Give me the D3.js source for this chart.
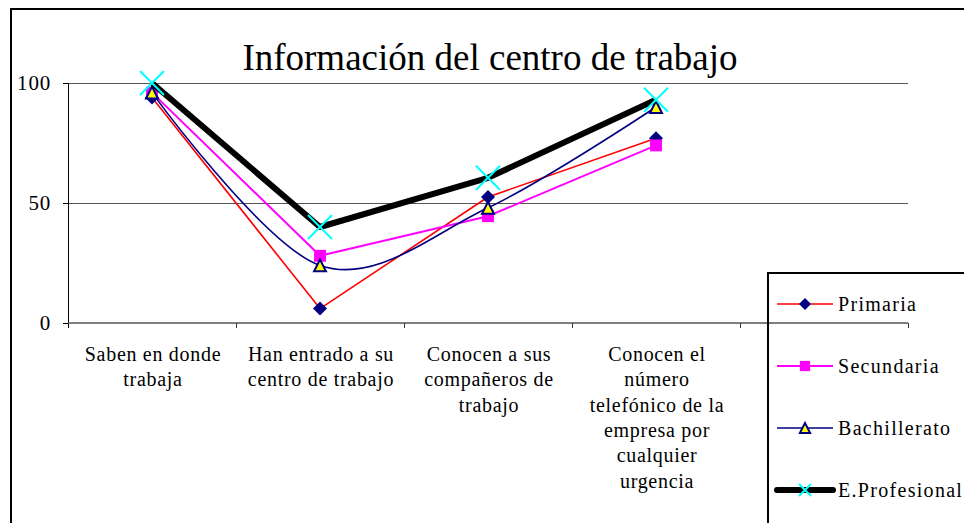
<!DOCTYPE html>
<html>
<head>
<meta charset="utf-8">
<script src="https://cdn.jsdelivr.net/npm/d3@7/dist/d3.min.js"></script>
<style>
  html, body { margin: 0; padding: 0; background: #fff; }
  svg { display: block; }
  svg text { font-family: "Times New Roman", "Liberation Serif", serif !important; fill: #000; }
</style>
</head>
<body>
<svg id="chart" width="964" height="523"></svg>
<script>
// ---- data ----
const title = "Información del centro de trabajo";
const categories = [
  "Saben en donde\ntrabaja",
  "Han entrado a su\ncentro de trabajo",
  "Conocen a sus\ncompañeros de\ntrabajo",
  "Conocen el\nnúmero\ntelefónico de la\nempresa por\ncualquier\nurgencia",
  ""
];
const seriesNames = ["Primaria", "Secundaria", "Bachillerato", "E.Profesional"];
const primaria     = [94, 6, 52.5, 77];
const secundaria   = [96, 28, 44.5, 74];
const bachillerato = [96, 24, 48, 90];
const profesional  = [100, 40, 60.5, 93];
const yTicks = [0, 50, 100];

// ---- layout ----
const FONT = '"Times New Roman", "Liberation Serif", serif';
const svg = d3.select("#chart");
const plot = { left: 68, right: 908, top: 83, bottom: 323 };

const x = d3.scaleBand().domain(categories).range([plot.left, plot.right]);
const y = d3.scaleLinear().domain([0, 100]).range([plot.bottom, plot.top]);

// outer frame
svg.append("path")
  .attr("d", `M11,530 L11,9 L970,9`)
  .attr("fill", "none").attr("stroke", "#000").attr("stroke-width", 2);

// title
svg.append("text")
  .attr("x", 490).attr("y", 70)
  .attr("text-anchor", "middle")
  .attr("font-family", FONT)
  .attr("font-size", 37)
  .text(title);

// gridlines
svg.append("g")
  .selectAll("line")
  .data(yTicks.filter(d => d > 0))
  .join("line")
  .attr("x1", plot.left).attr("x2", plot.right)
  .attr("y1", d => Math.round(y(d)) + 0.5).attr("y2", d => Math.round(y(d)) + 0.5)
  .attr("stroke", "#555").attr("stroke-width", 1);

// y axis
const yAxis = d3.axisLeft(y).tickValues(yTicks).tickSize(5).tickPadding(12).tickFormat(d3.format("d"));
const gy = svg.append("g").attr("transform", `translate(${plot.left},0)`).call(yAxis);
gy.attr("font-family", FONT);
gy.select(".domain").attr("stroke", "#000").attr("stroke-width", 1).attr("d", `M0.5,${plot.top}V${plot.bottom + 5}`);
gy.selectAll(".tick line").attr("stroke", "#000");
gy.selectAll(".tick text")
  .attr("font-family", FONT)
  .attr("font-size", 21).attr("letter-spacing", "0.8px")
  .attr("fill", "#000").attr("dy", "0.33em");

// x axis
const xAxis = d3.axisBottom(x).tickSize(0).tickFormat("");
const gx = svg.append("g").attr("transform", `translate(0,${plot.bottom})`).call(xAxis);
gx.select(".domain").attr("stroke", "#555").attr("stroke-width", 1.5).attr("d", `M${plot.left},0H${plot.right}`);
gx.selectAll(".tick").remove();
// band-boundary ticks
const bounds = categories.map(c => x(c)).concat([x(categories[categories.length - 1]) + x.bandwidth()]);
gx.selectAll("line.bt").data(bounds.slice(1)).join("line")
  .attr("class", "bt")
  .attr("x1", d => Math.round(d) + 0.5).attr("x2", d => Math.round(d) + 0.5)
  .attr("y1", 0).attr("y2", 5)
  .attr("stroke", "#333").attr("stroke-width", 1);

// x labels
const lblG = svg.append("g").attr("font-family", FONT);
categories.forEach(c => {
  const lines = c.split("\n");
  const t = lblG.append("text")
    .attr("text-anchor", "middle")
    .attr("font-family", FONT)
    .attr("font-size", 20)
    .attr("letter-spacing", "0.7px");
  lines.forEach((ln, i) => {
    t.append("tspan")
      .attr("x", x(c) + x.bandwidth() / 2 + 1)
      .attr("y", 361 + i * 25.3)
      .text(ln);
  });
});

// series
const series = [
  { name: seriesNames[0], values: primaria, color: "#FF0000", width: 1.6, marker: "diamond", curve: d3.curveLinear },
  { name: seriesNames[1], values: secundaria, color: "#FF00FF", width: 2, marker: "square", curve: d3.curveLinear },
  { name: seriesNames[2], values: bachillerato, color: "#000080", width: 1.6, marker: "triangle", curve: d3.curveCardinal },
  { name: seriesNames[3], values: profesional, color: "#000000", width: 6, marker: "x", curve: d3.curveLinear }
];

function drawMarker(g, type, cx, cy, s) {
  if (type === "diamond") {
    g.append("path")
      .attr("d", `M${cx},${cy - s / 2}L${cx + s / 2},${cy}L${cx},${cy + s / 2}L${cx - s / 2},${cy}Z`)
      .attr("fill", "#000080");
  } else if (type === "square") {
    const h = s * 0.85;
    g.append("rect").attr("x", cx - h / 2).attr("y", cy - h / 2).attr("width", h).attr("height", h)
      .attr("fill", "#FF00FF");
  } else if (type === "triangle") {
    const h = s * 0.85;
    g.append("path")
      .attr("d", `M${cx},${cy - h / 2}L${cx + h / 2},${cy + h / 2}L${cx - h / 2},${cy + h / 2}Z`)
      .attr("fill", "#FFFF00").attr("stroke", "#000080").attr("stroke-width", 2);
  } else if (type === "x") {
    const h = s / 2;
    g.append("path")
      .attr("d", `M${cx - h},${cy - h}L${cx + h},${cy + h}M${cx - h},${cy + h}L${cx + h},${cy - h}`)
      .attr("stroke", "#00FFFF").attr("stroke-width", 2).attr("fill", "none");
  }
}

series.forEach(s => {
  const pts = s.values.map((v, i) => [x(categories[i]) + x.bandwidth() / 2, y(v)]);
  const g = svg.append("g");
  g.append("path")
    .attr("d", d3.line().curve(s.curve)(pts))
    .attr("fill", "none").attr("stroke", s.color).attr("stroke-width", s.width)
    .attr("stroke-linejoin", "round");
  pts.forEach(p => drawMarker(g, s.marker, p[0], p[1], s.marker === "x" ? 24 : 14));
});

// legend
const leg = svg.append("g").attr("font-family", FONT);
leg.append("rect")
  .attr("x", 768).attr("y", 273).attr("width", 220).attr("height", 280)
  .attr("fill", "none").attr("stroke", "#000").attr("stroke-width", 2);
const legY = d3.scalePoint().domain(seriesNames).range([304, 490]);
series.forEach(s => {
  const yy = legY(s.name);
  leg.append("line")
    .attr("x1", 777).attr("x2", 833).attr("y1", yy).attr("y2", yy)
    .attr("stroke", s.color).attr("stroke-width", s.width)
    .attr("stroke-linecap", s.marker === "x" ? "round" : "butt");
  drawMarker(leg, s.marker, 805, yy, s.marker === "x" ? 12 : 12);
  leg.append("text")
    .attr("x", 838).attr("y", yy + 7)
    .attr("font-family", FONT)
    .attr("font-size", 20).attr("letter-spacing", "1.3px")
    .text(s.name);
});
</script>
</body>
</html>
